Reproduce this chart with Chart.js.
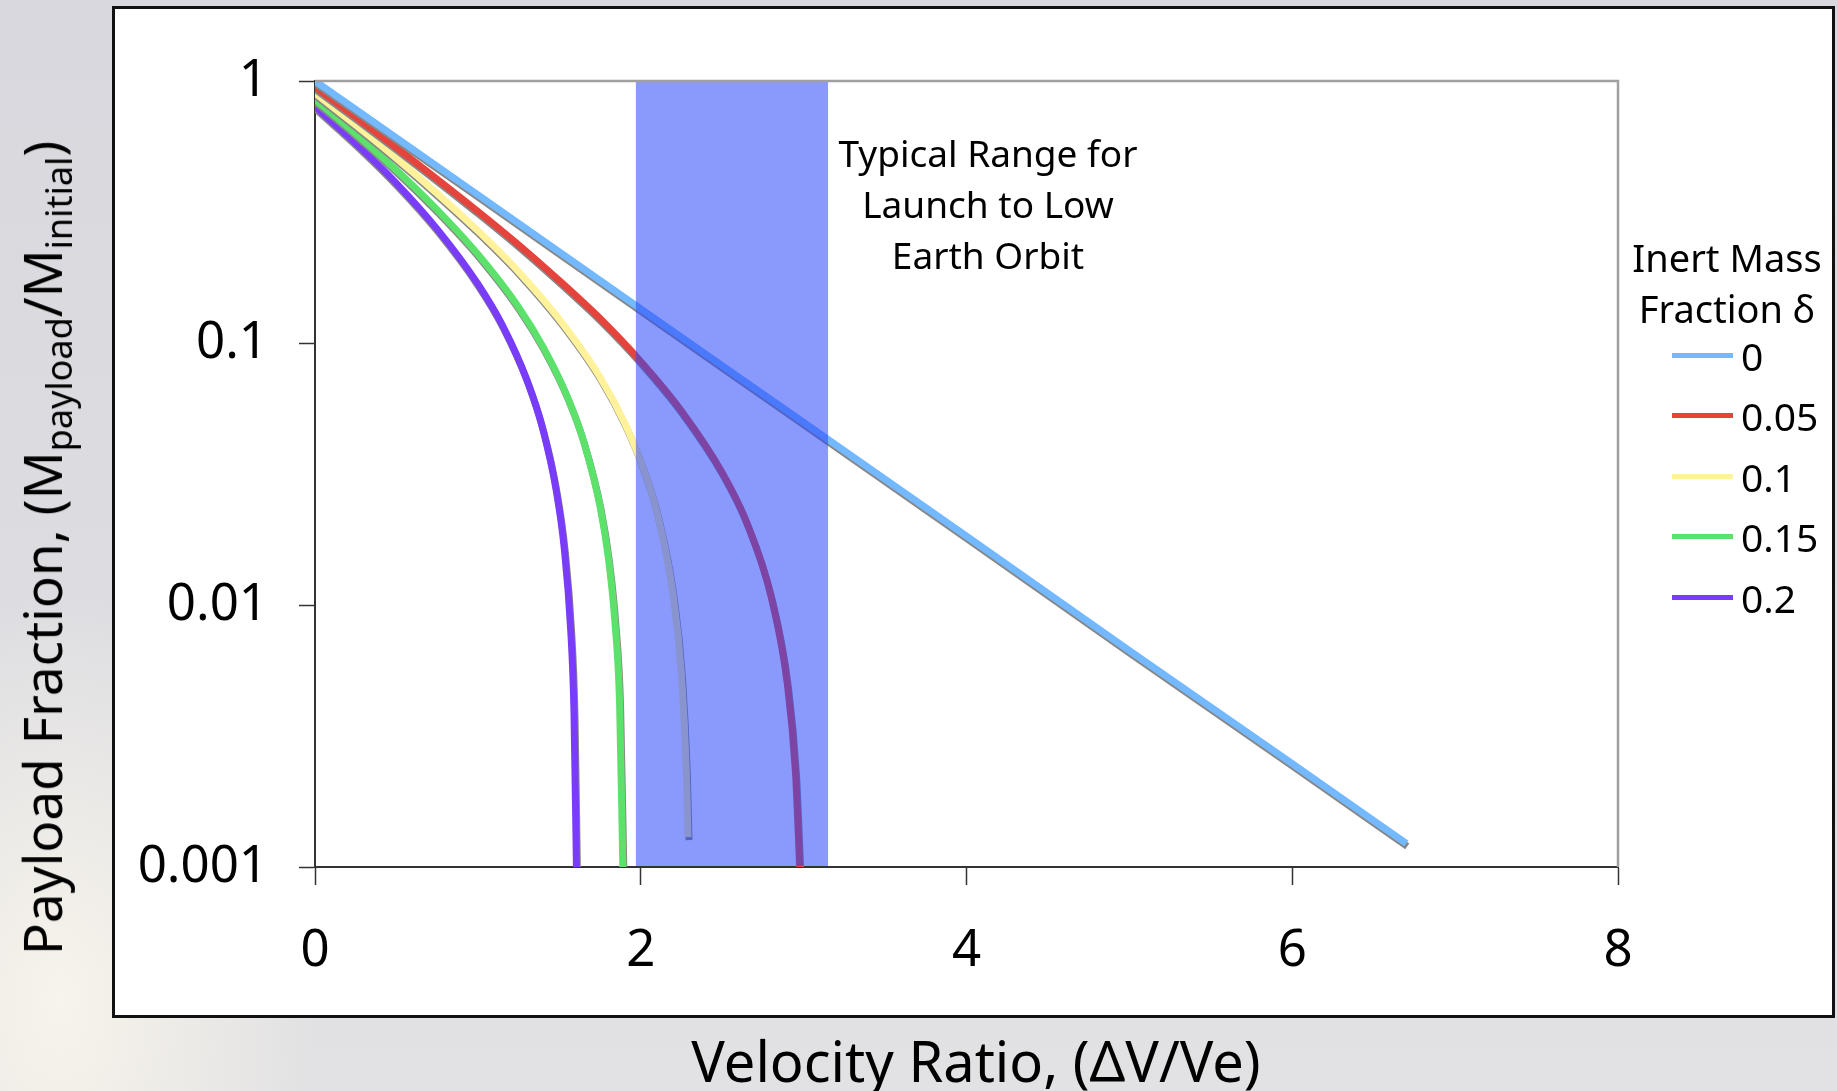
<!DOCTYPE html>
<html>
<head>
<meta charset="utf-8">
<script src="https://cdn.jsdelivr.net/npm/chart.js@4"></script>
<style>
  html, body { margin: 0; padding: 0; }
  body {
    width: 1837px; height: 1091px; overflow: hidden; position: relative;
    background:
      radial-gradient(ellipse 260px 420px at 60px 1000px, rgba(250,246,236,0.9), rgba(250,246,236,0) 100%),
      linear-gradient(to bottom, #d8d8de 0%, #dcdce1 55%, #e2e1e3 100%);
    font-family: "Comic Sans MS", "Noto Sans", sans-serif;
  }
  #frame {
    position: absolute; left: 112px; top: 6px; width: 1723px; height: 1012px;
    box-sizing: border-box; border: 3px solid #111; background: #fff;
  }
  #wrap { position: absolute; left: 0; top: 0; width: 1837px; height: 1091px; }
  #ytitle {
    position: absolute; left: 44px; top: 548px; white-space: nowrap;
    transform: translate(-50%, -50%) rotate(-90deg);
    font-size: 53px; color: #000;
  }
  #ytitle sub { font-size: 0.68em; vertical-align: -0.28em; }
  #xtitle {
    position: absolute; left: 976px; top: 1060px; white-space: nowrap;
    transform: translate(-50%, -50%); font-size: 56px; color: #000;
  }
  #note {
    position: absolute; left: 988px; top: 127px; transform: translateX(-50%);
    text-align: center; font-size: 37px; line-height: 51px; color: #000; white-space: nowrap;
  }
  #legend { position: absolute; left: 1620px; top: 232px; width: 214px; color: #000; }
  #legend .ttl { text-align: center; font-size: 38px; line-height: 51px; white-space: nowrap; }
  #legend .row { display: flex; align-items: center; height: 60.5px; padding-left: 52px; font-size: 39px; }
  #legend .sw { width: 61px; height: 5px; margin-right: 8px; }
  #legend .rows { margin-top: -9px; }
</style>
</head>
<body>
<div id="frame"></div>
<div id="wrap"><canvas id="chart" width="1837" height="1091"></canvas></div>
<div id="ytitle">Payload Fraction, (M<sub>payload</sub>/M<sub>initial</sub>)</div>
<div id="xtitle">Velocity Ratio, (ΔV/Ve)</div>
<div id="note">Typical Range for<br>Launch to Low<br>Earth Orbit</div>
<div id="legend">
  <div class="ttl">Inert Mass<br>Fraction δ</div>
  <div class="rows" id="legendRows"></div>
</div>
<script>
// inert mass fraction of each curve and its colour
const deltaLabels = ['0', '0.05', '0.1', '0.15', '0.2'];
const lineColors = ['#74b9fd', '#e5443c', '#fff29a', '#5ce26b', '#7a3cfb'];

// velocity ratio (x) and payload fraction (y)
const x0 = [0, 1, 2, 3, 4, 5, 6, 6.7];
const y0 = [1, 0.368, 0.135, 0.0498, 0.0183, 0.0067, 0.00248, 0.00123];

const x05 = [0, 0.25, 0.5, 0.75, 1, 1.25, 1.5, 1.75, 2, 2.25, 2.5, 2.65, 2.8, 2.9, 2.95, 2.976];
const y05 = [0.95, 0.729, 0.557, 0.422, 0.318, 0.237, 0.173, 0.124, 0.085, 0.055, 0.032, 0.0207, 0.0108, 0.005, 0.0023, 0.001];

const x10 = [0, 0.25, 0.5, 0.75, 1, 1.25, 1.5, 1.75, 1.9, 2.0, 2.1, 2.2, 2.25, 2.28, 2.29];
const y10 = [0.9, 0.679, 0.507, 0.372, 0.268, 0.187, 0.123, 0.074, 0.0496, 0.0353, 0.0225, 0.0108, 0.0054, 0.0023, 0.0013];

const x15 = [0, 0.25, 0.5, 0.75, 1, 1.25, 1.4, 1.55, 1.65, 1.75, 1.8, 1.84, 1.87, 1.89];
const y15 = [0.85, 0.629, 0.457, 0.322, 0.218, 0.137, 0.0966, 0.0622, 0.042, 0.0238, 0.0153, 0.0088, 0.0042, 0.001];

const x20 = [0, 0.25, 0.5, 0.75, 1, 1.15, 1.3, 1.4, 1.48, 1.53, 1.57, 1.59, 1.605];
const y20 = [0.8, 0.579, 0.407, 0.272, 0.168, 0.117, 0.0725, 0.0466, 0.0276, 0.0165, 0.008, 0.0039, 0.001];

// shaded "typical range" band, in velocity ratio
const bandRange = [1.97, 3.15];

const xTickValues = [0, 2, 4, 6, 8];
const yTickValues = [0.001, 0.01, 0.1, 1];
const yTickLabels = ['0.001', '0.01', '0.1', '1'];

const seriesX = [x0, x05, x10, x15, x20];
const seriesY = [y0, y05, y10, y15, y20];

const datasets = deltaLabels.map((lbl, i) => ({
    label: lbl,
    data: seriesX[i].map((x, j) => ({ x: x, y: seriesY[i][j] })),
    borderColor: lineColors[i],
    backgroundColor: lineColors[i],
    borderWidth: 7,
    borderCapStyle: 'butt',
    pointRadius: 0,
    cubicInterpolationMode: 'monotone',
    fill: false
}));

// grey drop shadow under each line
const shadowPlugin = {
    id: 'shadow',
    beforeDatasetDraw(chart) {
        const ctx = chart.ctx;
        ctx.save();
        ctx.shadowColor = 'rgba(135,135,135,1)';
        ctx.shadowOffsetX = 1;
        ctx.shadowOffsetY = 3;
        ctx.shadowBlur = 0;
    },
    afterDatasetDraw(chart) {
        chart.ctx.restore();
    }
};

// translucent band on top of the lines + grey top/right frame
const bandPlugin = {
    id: 'band',
    afterDatasetsDraw(chart) {
        const { ctx, chartArea, scales } = chart;
        const x1 = scales.x.getPixelForValue(bandRange[0]);
        const x2 = scales.x.getPixelForValue(bandRange[1]);
        const yTop = scales.y.getPixelForValue(1);
        const yBot = scales.y.getPixelForValue(0.001);
        ctx.save();
        ctx.fillStyle = 'rgba(40,70,250,0.55)';
        ctx.fillRect(x1, yTop, x2 - x1, yBot - yTop - 1);
        ctx.strokeStyle = '#a0a0a0';
        ctx.lineWidth = 2.5;
        ctx.beginPath();
        ctx.moveTo(chartArea.left, chartArea.top);
        ctx.lineTo(chartArea.right, chartArea.top);
        ctx.lineTo(chartArea.right, chartArea.bottom);
        ctx.stroke();
        ctx.restore();
    }
};

const tickFont = { family: '"Comic Sans MS", "Noto Sans", sans-serif', size: 51 };

new Chart(document.getElementById('chart').getContext('2d'), {
    type: 'line',
    data: { datasets: datasets },
    options: {
        responsive: false,
        animation: false,
        layout: { padding: { left: 115, top: 81, right: 219, bottom: 124 } },
        plugins: { legend: { display: false }, tooltip: { enabled: false } },
        scales: {
            x: {
                type: 'linear', min: 0, max: 8,
                afterBuildTicks: s => { s.ticks = xTickValues.map(v => ({ value: v })); },
                afterFit: s => { s.height = 100; },
                ticks: { font: tickFont, color: '#000', padding: 36 },
                grid: { drawOnChartArea: false, drawTicks: true, tickLength: 18, tickColor: '#333', tickWidth: 1.5 },
                border: { color: '#333', width: 2 }
            },
            y: {
                type: 'logarithmic', min: 0.001, max: 1,
                afterBuildTicks: s => { s.ticks = yTickValues.map(v => ({ value: v })); },
                afterFit: s => { s.width = 200; },
                ticks: { font: tickFont, color: '#000', padding: 31, callback: (v, i) => yTickLabels[i] },
                grid: { drawOnChartArea: false, drawTicks: true, tickLength: 16, tickColor: '#333', tickWidth: 1.5 },
                border: { color: '#333', width: 2 }
            }
        }
    },
    plugins: [shadowPlugin, bandPlugin]
});

// legend rows from the same arrays
const rows = document.getElementById('legendRows');
deltaLabels.forEach((lbl, i) => {
    const row = document.createElement('div');
    row.className = 'row';
    row.innerHTML = '<span class="sw" style="background:' + lineColors[i] + '"></span><span>' + lbl + '</span>';
    rows.appendChild(row);
});
</script>
</body>
</html>
